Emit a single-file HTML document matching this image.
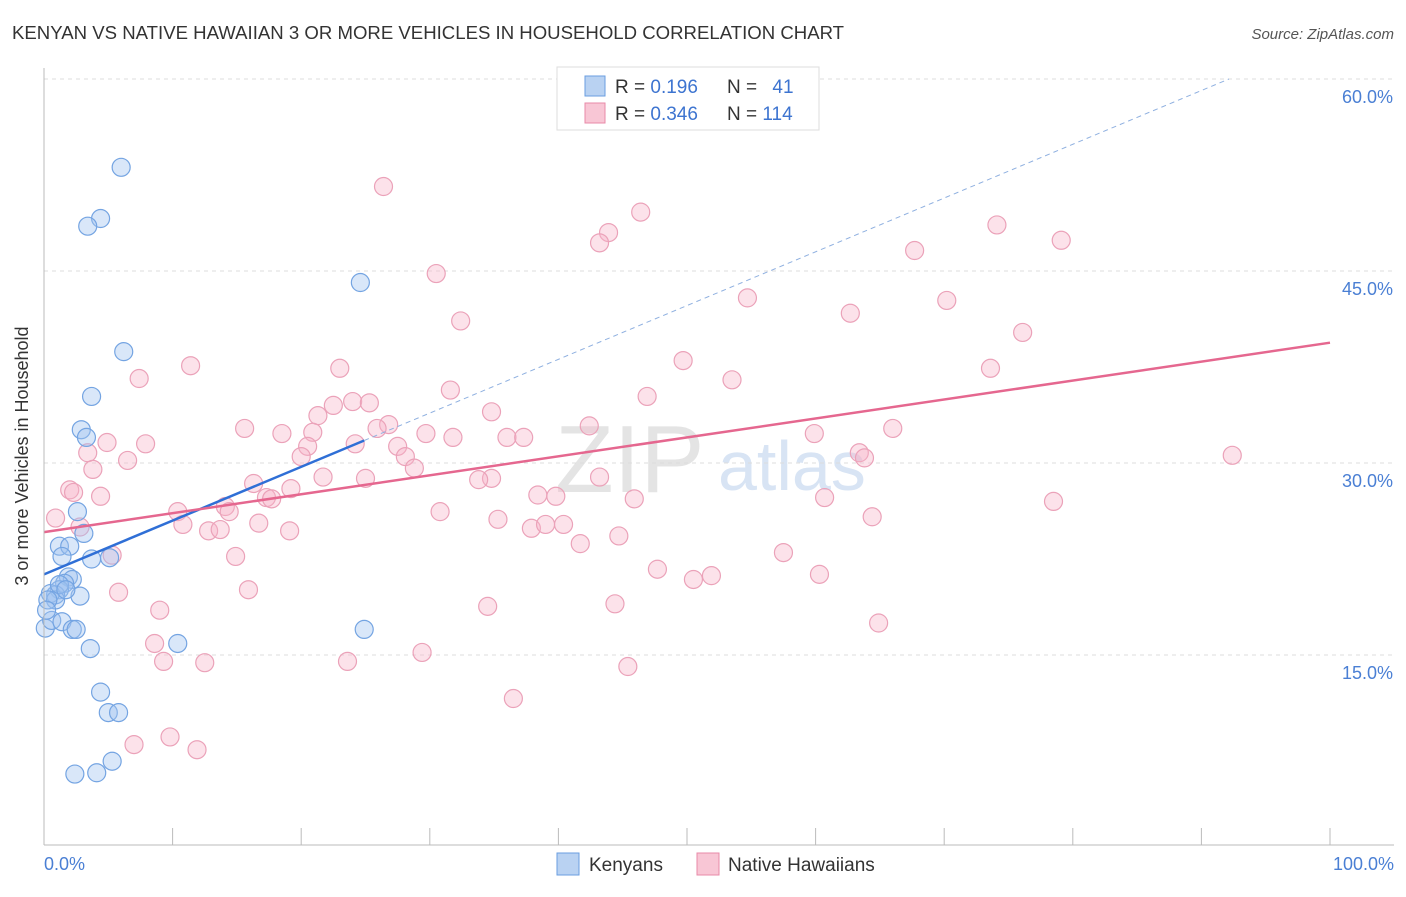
<!DOCTYPE html>
<html><head><meta charset="utf-8"><style>
body{margin:0;background:#fff;font-family:"Liberation Sans",sans-serif;}
svg text{font-family:"Liberation Sans",sans-serif;}
</style></head><body>
<svg id="c" width="1406" height="892">
<text x="12" y="39" font-size="18.6" fill="#333">KENYAN VS NATIVE HAWAIIAN 3 OR MORE VEHICLES IN HOUSEHOLD CORRELATION CHART</text>
<text x="1394" y="39" font-size="15" fill="#555" text-anchor="end" font-style="italic">Source: ZipAtlas.com</text>
<text x="28" y="456" font-size="18" fill="#333" text-anchor="middle" transform="rotate(-90 28 456)">3 or more Vehicles in Household</text>
<text x="555" y="492" font-size="96" fill="#e4e4e4" font-family="Liberation Serif">ZIP</text>
<text x="718" y="490" font-size="70" fill="#d8e4f4">atlas</text>
<g id="grid"></g><g id="pts"></g><g id="lines"></g>
<line x1="44" y1="68" x2="44" y2="845" stroke="#bbb"/>
<line x1="44" y1="845" x2="1394" y2="845" stroke="#bbb"/>
<text x="44" y="870" font-size="18" fill="#4a7fd4">0.0%</text>
<text x="1394" y="870" font-size="18" fill="#4a7fd4" text-anchor="end">100.0%</text>
<g>
<rect x="557" y="67" width="262" height="63" fill="#fff" stroke="#ddd"/>
<rect x="585" y="76" width="20" height="20" fill="#b9d2f2" stroke="#6a9ee0"/>
<rect x="585" y="103" width="20" height="20" fill="#f8c6d5" stroke="#e88aa8"/>
<text x="615" y="93" font-size="19" fill="#333">R = <tspan fill="#3d74d0">0.196</tspan></text>
<text x="727" y="93" font-size="19" fill="#333">N = <tspan fill="#3d74d0" dx="10">41</tspan></text>
<text x="615" y="120" font-size="19" fill="#333">R = <tspan fill="#3d74d0">0.346</tspan></text>
<text x="727" y="120" font-size="19" fill="#333">N = <tspan fill="#3d74d0">114</tspan></text>
</g>
<g>
<rect x="557" y="853" width="22" height="22" fill="#b9d2f2" stroke="#6a9ee0"/>
<text x="589" y="871" font-size="19" fill="#333">Kenyans</text>
<rect x="697" y="853" width="22" height="22" fill="#f8c6d5" stroke="#e88aa8"/>
<text x="728" y="871" font-size="19" fill="#333">Native Hawaiians</text>
</g>
</svg>
<script>
const yTicks=[15,30,45,60];
const xTicks=[0,10,20,30,40,50,60,70,80,90,100];
const blueX=[6.0,4.4,3.4,24.6,6.2,3.7,2.9,3.3,2.6,3.1,1.2,2.0,1.4,3.7,5.1,1.9,2.2,1.6,1.2,0.9,0.5,2.8,0.9,0.1,0.6,1.4,2.2,2.5,3.6,24.9,10.4,4.4,5.0,5.8,2.4,4.1,5.3,1.2,1.7,0.3,0.2];
const blueY=[53.1,49.1,48.5,44.1,38.7,35.2,32.6,32.0,26.2,24.5,23.5,23.5,22.7,22.5,22.6,21.1,20.9,20.6,20.1,19.7,19.8,19.6,19.3,17.1,17.7,17.6,17.0,17.0,15.5,17.0,15.9,12.1,10.5,10.5,5.7,5.8,6.7,20.5,20.1,19.3,18.5];
const pinkX=[26.4,30.5,32.4,46.4,43.9,43.2,74.1,79.1,67.7,54.7,70.2,62.7,76.1,49.7,73.6,53.5,31.6,46.9,23.0,11.4,7.4,24.0,25.3,22.5,21.3,26.8,25.9,29.7,31.8,34.8,36.0,37.3,42.4,59.9,66.0,63.4,63.8,92.4,15.6,18.5,20.9,20.5,20.0,7.9,4.9,6.5,3.4,3.8,24.2,27.5,28.1,28.8,25.0,21.7,34.8,33.8,43.2,38.4,39.8,45.9,60.7,78.5,2.0,2.3,4.4,0.9,10.4,10.8,14.1,14.4,16.3,17.3,17.7,19.2,16.7,19.1,12.8,13.7,2.8,30.8,35.3,37.9,39.0,40.4,64.4,5.3,14.9,41.7,44.7,57.5,47.7,50.5,51.9,60.3,5.8,15.9,9.0,34.5,44.4,64.9,8.6,9.3,12.5,23.6,29.4,45.4,36.5,7.0,9.8,11.9,41.7];
const pinkY=[51.6,44.8,41.1,49.6,48.0,47.2,48.6,47.4,46.6,42.9,42.7,41.7,40.2,38.0,37.4,36.5,35.7,35.2,37.4,37.6,36.6,34.8,34.7,34.5,33.7,33.0,32.7,32.3,32.0,34.0,32.0,32.0,32.9,32.3,32.7,30.8,30.4,30.6,32.7,32.3,32.4,31.3,30.5,31.5,31.6,30.2,30.8,29.5,31.5,31.3,30.5,29.6,28.8,28.9,28.8,28.7,28.9,27.5,27.4,27.2,27.3,27.0,27.9,27.7,27.4,25.7,26.2,25.2,26.6,26.2,28.4,27.3,27.2,28.0,25.3,24.7,24.7,24.8,25.0,26.2,25.6,24.9,25.2,25.2,25.8,22.8,22.7,23.7,24.3,23.0,21.7,20.9,21.2,21.3,19.9,20.1,18.5,18.8,19.0,17.5,15.9,14.5,14.4,14.5,15.2,14.1,11.6,8.0,8.6,7.6,57.2];
const blueTrend=[21.3,0.42];
const pinkTrend=[24.6,0.148];
const NS='http://www.w3.org/2000/svg';
function sx(v){return 44+v*12.86;}
function sy(v){return 847-v*12.8;}
function mk(t,a,p){const e=document.createElementNS(NS,t);for(const k in a)e.setAttribute(k,a[k]);p.appendChild(e);return e;}
const grid=document.getElementById('grid');
yTicks.forEach(t=>{
 const l=mk('line',{x1:44,x2:1394,y1:sy(t),y2:sy(t),stroke:'#ddd','stroke-dasharray':'4,4'},grid);
 
 
 const tx=mk('text',{x:1393,y:sy(t)+24,'font-size':18,fill:'#4a7fd4','text-anchor':'end'},grid);
 tx.textContent=t.toFixed(1)+'%';
 
 
});
xTicks.forEach(t=>{
 const l=mk('line',{x1:sx(t),x2:sx(t),y1:828,y2:845,stroke:'#bbb'},grid);
 
 
});
const pts=document.getElementById('pts');
pinkX.forEach((x,i)=>{
 const c=mk('circle',{cx:sx(x),cy:sy(pinkY[i]),r:9,fill:'rgba(247,180,200,0.38)',stroke:'#eba2b9','stroke-width':1.2},pts);
 
 
});
blueX.forEach((x,i)=>{
 const c=mk('circle',{cx:sx(x),cy:sy(blueY[i]),r:9,fill:'rgba(160,195,240,0.4)',stroke:'#74a4e2','stroke-width':1.2},pts);
 
 
});
const lines=document.getElementById('lines');
const bEnd=Math.max(...blueX);
let l1=mk('line',{x1:sx(0),y1:sy(blueTrend[0]),x2:sx(bEnd),y2:sy(blueTrend[0]+blueTrend[1]*bEnd),stroke:'#2f6fd6','stroke-width':2.5},lines);


const dEnd=(60-blueTrend[0])/blueTrend[1];
let l2=mk('line',{x1:sx(bEnd),y1:sy(blueTrend[0]+blueTrend[1]*bEnd),x2:sx(dEnd),y2:sy(60),stroke:'#8fb0e0','stroke-width':1,'stroke-dasharray':'5,4'},lines);


let l3=mk('line',{x1:sx(0),y1:sy(pinkTrend[0]),x2:sx(100),y2:sy(pinkTrend[0]+pinkTrend[1]*100),stroke:'#e5678f','stroke-width':2.5},lines);


</script>
</body></html>
